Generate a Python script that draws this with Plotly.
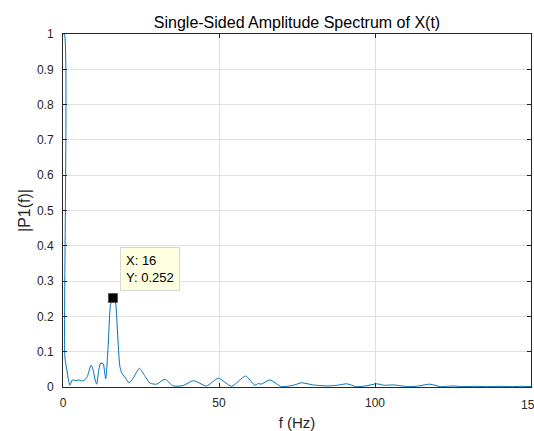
import plotly.graph_objects as go

# Frequency (Hz) and single-sided amplitude |P1(f)|
freq = [0, 0.45, 0.6, 1.2, 2.2, 3.0, 4.0, 5.0, 6.0, 7.0, 7.8, 9.0, 9.6, 10.3, 10.8,
        11.5, 12.1, 12.9, 13.3, 13.7, 14.5, 15.2, 16.0, 16.8, 17.5, 18.2, 18.8,
        19.8, 21.2, 22.5, 24.5, 26.3, 27.9, 30.0, 32.7, 35.3, 38.5, 41.8, 46.0,
        49.8, 54.0, 58.5, 61.5, 62.6, 63.5, 66.3, 70.0, 73.8, 76.5, 80.0, 84.7,
        88.0, 91.0, 94.0, 97.0, 100.5, 103.0, 105.9, 108.5, 111.0, 114.0, 117.6,
        121.0, 125.0, 128.0, 132.0, 136.0, 140.0, 144.0, 147.0, 150.0]
amp = [1.0, 1.0, 0.085, 0.05, 0.005, 0.02, 0.018, 0.02, 0.017, 0.02, 0.03, 0.062,
       0.05, 0.02, 0.008, 0.05, 0.068, 0.066, 0.045, 0.023, 0.12, 0.23, 0.252,
       0.24, 0.15, 0.06, 0.04, 0.028, 0.012, 0.025, 0.053, 0.03, 0.011, 0.008,
       0.022, 0.003, 0.004, 0.018, 0.003, 0.025, 0.002, 0.031, 0.005, 0.01,
       0.008, 0.02, 0.001, 0.005, 0.012, 0.006, 0.003, 0.005, 0.009, 0.001,
       0.003, 0.009, 0.005, 0.006, 0.003, 0.001, 0.003, 0.008, 0.001, 0.003,
       0.001, 0.002, 0.001, 0.002, 0.001, 0.002, 0.001]

tip_x = [16]
tip_y = [0.252]

x_ticks = [0, 50, 100, 150]
y_ticks = [0, 0.1, 0.2, 0.3, 0.4, 0.5, 0.6, 0.7, 0.8, 0.9, 1]

FONT = "Liberation Sans, Arial, sans-serif"
AX = "#262626"
TICK_SIZE = 12

fig = go.Figure()
fig.add_trace(go.Scatter(x=freq, y=amp, mode="lines",
                         line=dict(color="#0072BD", width=1, shape="spline", smoothing=0.6),
                         hoverinfo="skip", showlegend=False))
fig.add_trace(go.Scatter(x=tip_x, y=tip_y, mode="markers",
                         marker=dict(symbol="square", size=9, color="black",
                                     line=dict(color="#555555", width=1)),
                         showlegend=False, cliponaxis=False))

fig.add_annotation(x=tip_x[0], y=tip_y[0], xref="x", yref="y",
                   text=f"X: {tip_x[0]}<br>Y: {tip_y[0]}", showarrow=False,
                   xanchor="left", yanchor="bottom", xshift=7, yshift=7,
                   align="left", bgcolor="#ffffe1", bordercolor="#d8d8d0",
                   borderwidth=1, borderpad=5,
                   font=dict(family=FONT, size=13, color="black"))

# last x tick label, which the reference shows cut by the figure edge
fig.add_annotation(x=x_ticks[-1], y=0, xref="x", yref="paper",
                   text=str(x_ticks[-1]), showarrow=False,
                   xanchor="center", yanchor="top", yshift=-9,
                   font=dict(family=FONT, size=TICK_SIZE, color=AX))

axis_common = dict(showline=True, linecolor=AX, linewidth=1, mirror="ticks",
                   ticks="inside", ticklen=4, tickcolor=AX, showgrid=True,
                   gridcolor="#e0e0e0", gridwidth=1, zeroline=False,
                   tickfont=dict(family=FONT, size=TICK_SIZE, color=AX))

fig.update_xaxes(range=[0, 150], tickvals=x_ticks,
                 ticktext=[str(v) for v in x_ticks[:-1]] + [""],
                 ticklabelstandoff=5,
                 title=dict(text="f (Hz)", font=dict(family=FONT, size=15, color=AX), standoff=10),
                 **axis_common)
fig.update_yaxes(range=[0, 1], tickvals=y_ticks,
                 ticktext=[("%g" % v) for v in y_ticks],
                 ticklabelstandoff=6,
                 title=dict(text="|P1(f)|", font=dict(family=FONT, size=16, color=AX), standoff=2),
                 **axis_common)

fig.update_layout(
    width=534, height=431,
    margin=dict(l=63, r=3, t=34, b=44, autoexpand=False),
    paper_bgcolor="white", plot_bgcolor="white",
    title=dict(text="Single-Sided Amplitude Spectrum of X(t)", x=0.5, xref="paper",
               y=1 - 22 / 431, yref="container", yanchor="middle", xanchor="center",
               font=dict(family=FONT, size=16, color="black")),
)

fig.write_html("out.html")
